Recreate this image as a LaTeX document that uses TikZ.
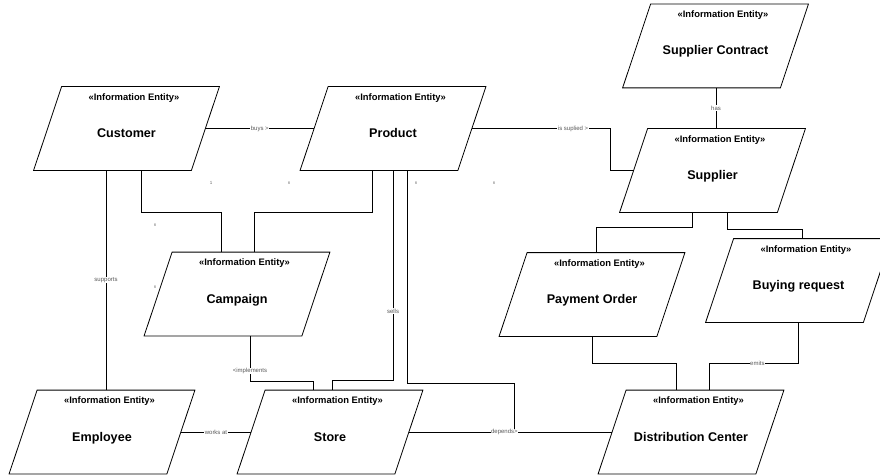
\documentclass[tikz,border=0pt]{standalone}
\usepackage{fontspec}
\setmainfont{Liberation Sans}
\begin{document}
\begin{tikzpicture}[x=1pt, y=-1pt, line width=0.8pt,
  every node/.style={font=\fontsize{6}{7}\selectfont},
  entity/.style={minimum width=157pt, minimum height=83pt, inner sep=0pt,
    text height=18pt, text depth=0pt, font=\bfseries\fontsize{12.6}{15}\selectfont},
  stereo/.style={inner sep=0pt, font=\bfseries\fontsize{9.4}{11}\selectfont},
  rel/.style={fill=white, inner sep=0.6pt, text=black!65},
  mult/.style={font=\fontsize{4.5}{5}\selectfont, text=black!60}]
\def\skew{14pt}
\useasboundingbox (0,0) rectangle (880,476);
\clip (0,0) rectangle (880,476);

\node[entity] (customer) at (126.5,128.5) {Customer};
\node[entity] (product) at (393,128.5) {Product};
\node[entity] (contract) at (715.5,46) {Supplier Contract};
\node[entity] (supplier) at (712.5,170.5) {Supplier};
\node[entity] (campaign) at (237,294) {Campaign};
\node[entity] (payment) at (592,294.5) {Payment Order};
\node[entity] (buying) at (798.5,280.5) {Buying request};
\node[entity] (employee) at (102,432) {Employee};
\node[entity] (store) at (330,432) {Store};
\node[entity] (distribution) at (691,432) {Distribution Center};

\foreach \n in {customer,product,contract,supplier,campaign,payment,buying,employee,store,distribution} {
  \draw ([xshift=-\skew]\n.south west) -- ([xshift=-\skew]\n.south east)
    -- ([xshift=\skew]\n.north east) -- ([xshift=\skew]\n.north west) -- cycle;
  \node[stereo] (\n-st) at ([xshift=7.5pt, yshift=-11pt]\n.north) {«Information Entity»};
}

\draw (customer.east) -- node[rel] {buys >} (product.west);
\draw ([xshift=14.5pt]customer.south) -- ++(0,42) -| ([xshift=-16pt]campaign.north);
\draw ([xshift=-21pt]product.south) -- ++(0,42) -| ([xshift=17pt]campaign.north);
\draw ([xshift=-20.5pt]customer.south) -- node[rel] {supports} ([xshift=-20.5pt]customer.south |- employee.north);
\draw (product.south) -- node[rel, pos=0.67] {sells} ++(0,210) -| ([xshift=2pt]store.north);
\draw ([xshift=14pt]product.south) -- ++(0,213) -- ++(107,0) |- (distribution.west);
\draw (store.east) -- node[rel, pos=0.47] {depends>} (distribution.west);
\draw ([xshift=13pt]campaign.south) -- node[rel, pos=0.78] {<implements} ++(0,45) -| ([xshift=-17pt]store.north);
\draw (employee.east) -- node[rel] {works at} (store.west);
\draw ([xshift=0.5pt]contract.south) -- node[rel] {has} ([xshift=0.5pt]contract.south |- supplier.north);
\draw (product.east) -- node[rel, pos=0.73] {is suplied >} ++(138.5,0) |- (supplier.west);
\draw ([xshift=-20.5pt]supplier.south) -- ++(0,15) -| ([xshift=4pt]payment.north);
\draw ([xshift=14.5pt]supplier.south) -- ++(0,17) -| ([xshift=3.5pt]buying.north);
\draw (payment.south) -- ++(0,27) -| ([xshift=-15pt]distribution.north);
\draw (buying.south) -- ++(0,41) -| node[rel, pos=0.23] {emits} ([xshift=18pt]distribution.north);

\node[mult] (m1) at (211,183) {1};
\node[mult] (m2) at (289,183) {n};
\node[mult] (m3) at (155,225) {n};
\node[mult] (m4) at (155,287) {n};
\node[mult] (m5) at (416,183) {n};
\node[mult] (m6) at (494,183) {n};
\end{tikzpicture}
\end{document}
